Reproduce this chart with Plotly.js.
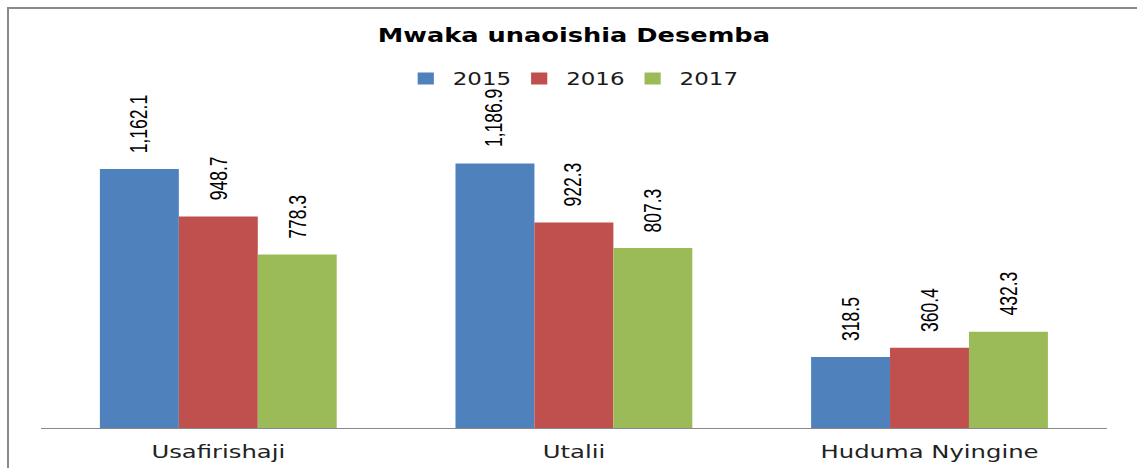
<!DOCTYPE html>
<html><head><meta charset="utf-8">
<script src="https://cdn.plot.ly/plotly-3.0.1.min.js"></script>
<style>
html,body{margin:0;padding:0;background:#fff;overflow:hidden;}
#wrap{position:absolute;left:0;top:0;width:1137px;height:468px;overflow:hidden;background:#fff;}
#chart{position:absolute;left:0;top:0;width:842px;height:468px;transform-origin:0 0;transform:scaleX(1.35036);}
#frame{position:absolute;left:7px;top:7px;width:1140px;height:470px;border-left:2px solid #8a8a8a;border-top:2px solid #8a8a8a;pointer-events:none;}
</style></head><body>
<div id="wrap"><div id="chart"></div><div id="frame"></div></div>
<script>
const categories = ["Usafirishaji", "Utalii", "Huduma Nyingine"];
const years = ["2015", "2016", "2017"];
const values2015 = [1162.1, 1186.9, 318.5];
const values2016 = [948.7, 922.3, 360.4];
const values2017 = [778.3, 807.3, 432.3];
const seriesColors = ["#4F81BD", "#C0504D", "#9BBB59"];
const chartTitle = "Mwaka unaoishia Desemba";

const allSeries = [values2015, values2016, values2017];
const bargap = 0.334;
const barW = (1 - bargap) / allSeries.length;

function fmt(v) {
  return v.toLocaleString('en-US', {minimumFractionDigits: 1, maximumFractionDigits: 1});
}

const traces = allSeries.map((vals, k) => ({
  type: 'bar',
  name: years[k],
  x: categories,
  y: vals,
  marker: {color: seriesColors[k], line: {width: 0}},
  hoverinfo: 'none'
}));

const annotations = [];
allSeries.forEach((vals, k) => {
  vals.forEach((v, i) => {
    annotations.push({
      xref: 'x', yref: 'y',
      x: i + (k - (allSeries.length - 1) / 2) * barW,
      y: v,
      text: fmt(v),
      textangle: -90,
      showarrow: false,
      xanchor: 'center', yanchor: 'bottom',
      yshift: 14,
      font: {family: '"Liberation Sans", Arial, sans-serif', size: 17.5, color: '#000'}
    });
  });
});

const layout = {
  width: 842, height: 468,
  margin: {l: 29.6, r: 22.3, t: 116, b: 40, pad: 0},
  paper_bgcolor: 'rgba(0,0,0,0)', plot_bgcolor: 'rgba(0,0,0,0)',
  barmode: 'group', bargap: bargap, bargroupgap: 0,
  title: {
    text: '<b>' + chartTitle + '</b>',
    font: {family: '"DejaVu Sans", sans-serif', size: 19, color: '#000'},
    xref: 'paper', x: 0.5, xanchor: 'center',
    yref: 'container', y: 1 - 35 / 468, yanchor: 'middle'
  },
  showlegend: true,
  legend: {
    orientation: 'h', x: 0.4953, xanchor: 'center', y: 1 + 37 / 312, yanchor: 'middle',
    font: {family: '"DejaVu Sans", sans-serif', size: 17, color: '#1a1a1a'},
    entrywidth: 39, bgcolor: 'rgba(0,0,0,0)', traceorder: 'normal'
  },
  xaxis: {
    type: 'category', showline: true, linecolor: '#8a8a8a', linewidth: 1,
    showgrid: false, zeroline: false, ticks: '', ticklabelstandoff: 7,
    tickfont: {family: '"DejaVu Sans", sans-serif', size: 18, color: '#222'},
    fixedrange: true
  },
  yaxis: {
    range: [0, 1400], visible: false, showgrid: false, zeroline: false, fixedrange: true
  },
  annotations: annotations
};

Plotly.newPlot('chart', traces, layout, {displayModeBar: false, staticPlot: true});
</script>
</body></html>
